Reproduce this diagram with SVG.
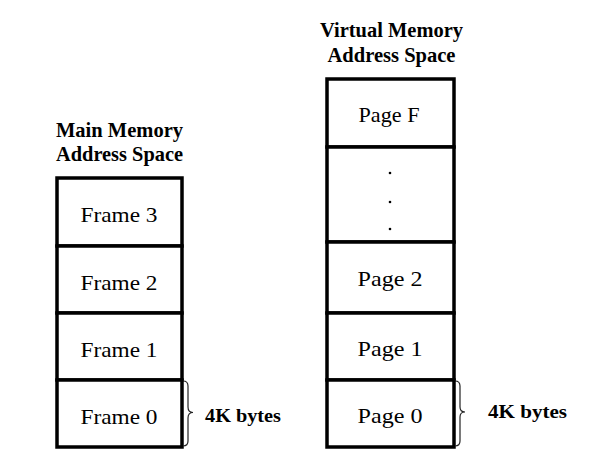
<svg xmlns="http://www.w3.org/2000/svg" width="589" height="453" viewBox="0 0 589 453">
<style>
.cell{fill:#fff;stroke:#000;stroke-width:3.5}
.lbl{font-family:"Liberation Serif","Times New Roman",serif;font-size:22px;fill:#000;text-anchor:middle}
.ttl{font-family:"Liberation Serif","Times New Roman",serif;font-size:22px;font-weight:bold;fill:#000;text-anchor:middle}
.kb{font-family:"Liberation Serif","Times New Roman",serif;font-size:18px;font-weight:bold;fill:#000}
.brace{fill:none;stroke:#222;stroke-width:1.2}
.dot{fill:#000}
</style>
<rect width="589" height="453" fill="#fff"/>
<g id="main-title">
<text class="ttl" x="119.5" y="137" textLength="127" lengthAdjust="spacingAndGlyphs">Main Memory</text>
<text class="ttl" x="119.5" y="161" textLength="127" lengthAdjust="spacingAndGlyphs">Address Space</text>
</g>
<g id="virtual-title">
<text class="ttl" x="391.5" y="37" textLength="143" lengthAdjust="spacingAndGlyphs">Virtual Memory</text>
<text class="ttl" x="391.5" y="62" textLength="128" lengthAdjust="spacingAndGlyphs">Address Space</text>
</g>
<g id="frame3"><rect class="cell" x="57" y="178" width="125" height="68"/><text class="lbl" x="119" y="222" textLength="77" lengthAdjust="spacingAndGlyphs">Frame 3</text></g>
<g id="frame2"><rect class="cell" x="57" y="246" width="125" height="67"/><text class="lbl" x="119" y="290" textLength="77" lengthAdjust="spacingAndGlyphs">Frame 2</text></g>
<g id="frame1"><rect class="cell" x="57" y="313" width="125" height="67"/><text class="lbl" x="119" y="357" textLength="77" lengthAdjust="spacingAndGlyphs">Frame 1</text></g>
<g id="frame0"><rect class="cell" x="57" y="380" width="125" height="67"/><text class="lbl" x="119" y="424" textLength="77" lengthAdjust="spacingAndGlyphs">Frame 0</text></g>
<g id="pageF"><rect class="cell" x="327" y="79" width="127" height="68"/><text class="lbl" x="389" y="122" textLength="61" lengthAdjust="spacingAndGlyphs">Page F</text></g>
<g id="pageDots"><rect class="cell" x="327" y="147" width="127" height="95"/><circle class="dot" cx="390" cy="173" r="1.3"/><circle class="dot" cx="390" cy="202" r="1.3"/><circle class="dot" cx="390" cy="229" r="1.3"/></g>
<g id="page2"><rect class="cell" x="327" y="242" width="127" height="71"/><text class="lbl" x="390" y="286" textLength="65" lengthAdjust="spacingAndGlyphs">Page 2</text></g>
<g id="page1"><rect class="cell" x="327" y="313" width="127" height="67"/><text class="lbl" x="390" y="356" textLength="65" lengthAdjust="spacingAndGlyphs">Page 1</text></g>
<g id="page0"><rect class="cell" x="327" y="380" width="127" height="67"/><text class="lbl" x="390" y="423" textLength="65" lengthAdjust="spacingAndGlyphs">Page 0</text></g>
<g id="braces">
<path class="brace" d="M183,381 Q188,381 188,386 L188,407 Q188,412.5 193,412.5 Q188,412.5 188,418 L188,441 Q188,446 183,446"/>
<path class="brace" d="M455,381 Q460,381 460,386 L460,407 Q460,412 465,412 Q460,412 460,417 L460,441 Q460,446 455,446"/>
</g>
<g id="size-left"><text class="kb" x="205" y="422" textLength="76" lengthAdjust="spacingAndGlyphs">4K bytes</text></g>
<g id="size-right"><text class="kb" x="488" y="418" textLength="79" lengthAdjust="spacingAndGlyphs">4K bytes</text></g>
</svg>
